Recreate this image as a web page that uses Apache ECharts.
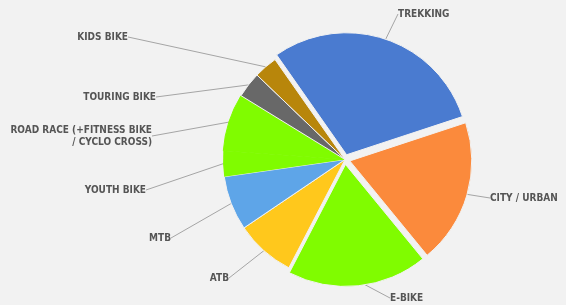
<!DOCTYPE html>
<html>
<head>
<meta charset="utf-8">
<script src="https://cdn.jsdelivr.net/npm/echarts@6/dist/echarts.min.js"></script>
<style>
  html, body { margin: 0; padding: 0; background: #f2f2f2; }
  #main { width: 566px; height: 305px; }
</style>
</head>
<body>
<div id="main"></div>
<script>
// bike categories, clockwise from the top
var categories = ['TREKKING', 'CITY / URBAN', 'E-BIKE', 'ATB', 'MTB', 'YOUTH BIKE',
  'ROAD RACE (+FITNESS BIKE\n/ CYCLO CROSS)', 'TOURING BIKE', 'KIDS BIKE'];
var shares = [29.6, 19.1, 18.5, 7.9, 7.2, 3.4, 7.6, 3.4, 3.1];
var exploded = [true, true, true, false, false, false, false, false, false];
var colors = ['#4a7bd0', '#fb8a3c', '#80fc00', '#ffc81c', '#5ea5e8', '#80fc00', '#80fc00', '#686868', '#b8860b'];

// where each label sits (x, y, align)
var labelPos = [
  [398, 14, 'left'], [490, 198, 'left'], [390, 298, 'left'],
  [229, 278, 'right'], [171, 238, 'right'], [146, 190, 'right'],
  [152, 136, 'right'], [156, 97, 'right'], [128, 37, 'right']
];

var BG = '#f2f2f2';
var NONE = 'rgba(0,0,0,0)';

var chart = echarts.init(document.getElementById('main'));

// base pie: slices that stay in place + all the labels
var baseData = categories.map(function (name, i) {
  var style = { color: exploded[i] ? NONE : colors[i] };
  if (exploded[i]) style.borderWidth = 0;
  if (i === 5) style.borderWidth = 0;
  if (i === 6) style.borderColor = colors[i];
  return { name: name, value: shares[i], itemStyle: style };
});

// pulled-out slices, drawn on top
var outData = categories.map(function (name, i) {
  return {
    name: name,
    value: shares[i],
    selected: exploded[i],
    itemStyle: exploded[i] ? { color: colors[i] } : { color: NONE, borderWidth: 0 }
  };
});

var common = {
  type: 'pie',
  center: [345, 159.5],
  radius: 122,
  startAngle: 125,
  silent: true,
  itemStyle: { borderColor: BG, borderWidth: 1 }
};

chart.setOption({
  backgroundColor: BG,
  animation: false,
  series: [
    Object.assign({}, common, {
      label: {
        color: '#555',
        fontFamily: 'Liberation Sans Narrow, DejaVu Sans Condensed, sans-serif',
        fontWeight: 'bold',
        fontSize: 10,
        lineHeight: 12,
        align: 'right'
      },
      labelLine: {
        show: true,
        length: 10,
        length2: 0,
        lineStyle: { color: '#a5a5a5', width: 1 }
      },
      labelLayout: function (params) {
        var p = labelPos[params.dataIndex];
        return { x: p[0], y: p[1], align: p[2], verticalAlign: 'middle' };
      },
      data: baseData
    }),
    Object.assign({}, common, {
      selectedMode: 'multiple',
      selectedOffset: 5,
      label: { show: false },
      labelLine: { show: false },
      data: outData
    })
  ]
});
</script>
</body>
</html>
